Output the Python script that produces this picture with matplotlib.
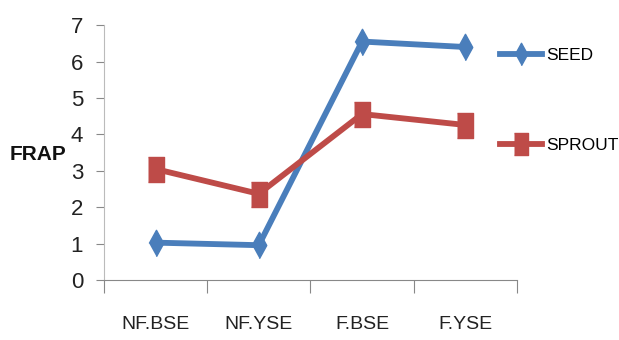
import numpy as np
import matplotlib.pyplot as plt

# data
categories = ["NF.BSE", "NF.YSE", "F.BSE", "F.YSE"]
seed = [1.03, 0.96, 6.55, 6.40]
sprout = [3.05, 2.37, 4.56, 4.26]

plt.rcParams['font.family'] = ['Liberation Sans', 'DejaVu Sans']

# tall, narrow markers like the (horizontally squeezed) original
diamond = [(-0.55, 0), (0, 1), (0.55, 0), (0, -1)]
square = [(-0.65, -1), (0.65, -1), (0.65, 1), (-0.65, 1)]

fig = plt.figure(figsize=(6.19, 3.4), dpi=100)
ax = fig.add_axes([0.168, 0.176, 0.667, 0.75])

x = np.arange(len(categories))
ax.plot(x, seed, color='#4A7EBB', linewidth=4.2, marker=diamond, markersize=19, label='SEED')
ax.plot(x, sprout, color='#BE4B48', linewidth=4.2, marker=square, markersize=18, label='SPROUT')

ax.set_xlim(-0.5, 3.5)
ax.set_ylim(0, 7)
ax.set_yticks(range(0, 8))
ax.set_xticks(np.arange(-0.5, 4, 1))
ax.set_xticklabels([])
ax.set_xticks(x, minor=True)
ax.set_xticklabels(categories, minor=True, fontsize=14, color='#222222')
ax.tick_params(axis='x', which='minor', length=0, pad=26)
ax.tick_params(axis='x', which='major', length=9, color='#888888', direction='out')
ax.tick_params(axis='y', length=6, color='#888888', labelsize=16, labelcolor='#222222', pad=9)

for s in ['top', 'right']:
    ax.spines[s].set_visible(False)
ax.spines['left'].set_color('#bbbbbb')
ax.spines['bottom'].set_color('#888888')

fig.text(10 / 619, 1 - 155 / 340, 'FRAP', fontsize=15, fontweight='bold',
         ha='left', va='center', color='#111111')

ax.legend(loc='center left', bbox_to_anchor=(0.797, 0.705), bbox_transform=fig.transFigure,
          frameon=False, fontsize=12.5, labelspacing=4.3, handlelength=2.4,
          handletextpad=0.25, borderaxespad=0, markerscale=0.85)

plt.savefig('out.png', dpi=100)
